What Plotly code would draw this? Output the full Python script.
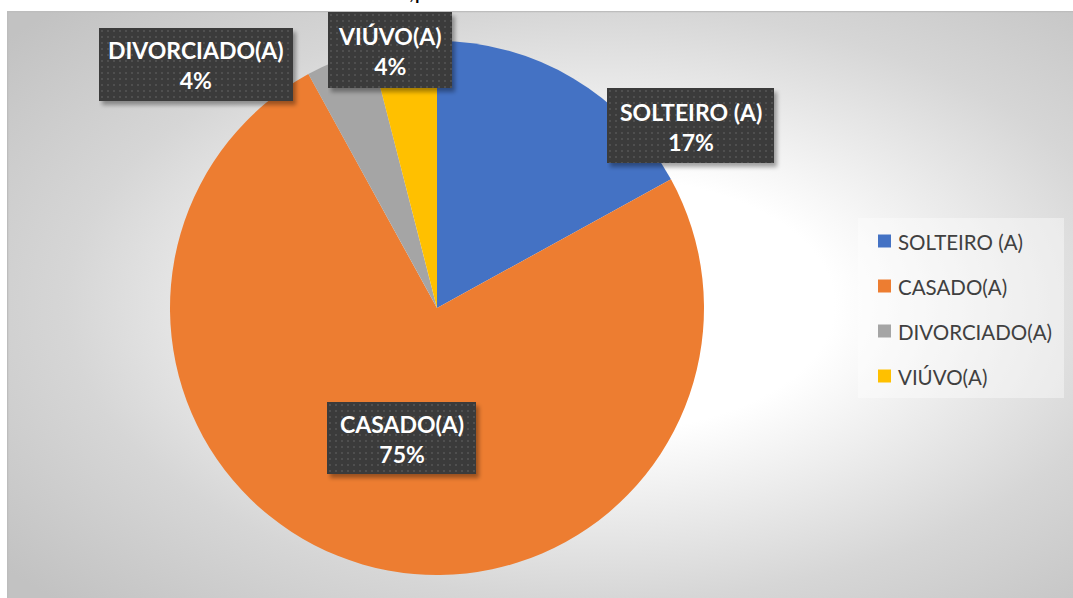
import base64
import plotly.graph_objects as go

# ---------------- data ----------------
labels = ["SOLTEIRO (A)", "CASADO(A)", "DIVORCIADO(A)", "VIÚVO(A)"]
values = [17, 75, 4, 4]
colors = ["#4472C4", "#ED7D31", "#A5A5A5", "#FFC000"]

# ---------------- geometry / style ----------------
W, H = 1073, 598


def px(x):
    return x / W


def py(y):
    return 1 - y / H


def svg_uri(svg):
    return "data:image/svg+xml;base64," + base64.b64encode(svg.encode("utf-8")).decode("ascii")


# chart-area background with radial gradient
PX0, PY0 = 7, 11
PW, PH = W - PX0, H - PY0
bg_svg = f'''<svg xmlns="http://www.w3.org/2000/svg" width="{PW}" height="{PH}" viewBox="0 0 {PW} {PH}" preserveAspectRatio="none">
<defs><radialGradient id="g" cx="0.56" cy="0.5" r="0.72">
<stop offset="0" stop-color="#ffffff"/>
<stop offset="0.3" stop-color="#ffffff"/>
<stop offset="0.7" stop-color="#d6d6d6"/>
<stop offset="1" stop-color="#c2c2c2"/>
</radialGradient></defs>
<rect width="{PW}" height="{PH}" fill="url(#g)"/>
<line x1="0.5" y1="0" x2="0.5" y2="{PH}" stroke="#bdbdbd" stroke-width="1.5"/>
<line x1="0" y1="0.5" x2="{PW}" y2="0.5" stroke="#bdbdbd" stroke-width="1.5"/>
</svg>'''

# pie placement (centre 437,308 ; radius 267)
CX, CY, R = 437, 308, 267

# label boxes (x0, y0, x1, y1) in pixels, matching order of labels
label_boxes = [
    (607, 88, 774, 163),
    (327, 402, 476, 474),
    (99, 28, 293, 101),
    (328, 12, 452, 88),
]


def box_svg(w, h):
    pad = 10
    return f'''<svg xmlns="http://www.w3.org/2000/svg" width="{w+pad}" height="{h+pad}" viewBox="0 0 {w+pad} {h+pad}">
<defs>
<pattern id="p" width="6" height="6" patternUnits="userSpaceOnUse">
<rect width="6" height="6" fill="#3b3b3b"/>
<rect x="2" y="2" width="2" height="2" fill="#4f4f4f"/>
</pattern>
<filter id="s" x="-10%" y="-10%" width="130%" height="140%"><feGaussianBlur stdDeviation="2.2"/></filter>
</defs>
<rect x="3" y="4" width="{w}" height="{h}" fill="#000" fill-opacity="0.35" filter="url(#s)"/>
<rect x="0" y="0" width="{w}" height="{h}" fill="url(#p)"/>
</svg>'''


total = sum(values)
pct = [f"{round(v / total * 100)}%" for v in values]

fig = go.Figure(
    go.Pie(
        labels=labels,
        values=values,
        marker=dict(colors=colors, line=dict(width=0)),
        sort=False,
        direction="clockwise",
        rotation=0,
        textinfo="none",
        hoverinfo="label+percent",
        domain=dict(x=[px(CX - R), px(CX + R)], y=[py(CY + R), py(CY - R)]),
        showlegend=False,
    )
)

images = [
    dict(source=svg_uri(bg_svg), xref="paper", yref="paper",
         x=px(PX0), y=py(PY0), sizex=PW / W, sizey=PH / H,
         xanchor="left", yanchor="top", sizing="stretch", layer="below")
]
annotations = []
shapes = []

for lab, p, (x0, y0, x1, y1) in zip(labels, pct, label_boxes):
    w, h = x1 - x0, y1 - y0
    images.append(dict(source=svg_uri(box_svg(w, h)), xref="paper", yref="paper",
                       x=px(x0), y=py(y0), sizex=(w + 10) / W, sizey=(h + 10) / H,
                       xanchor="left", yanchor="top", sizing="stretch", layer="above"))
    annotations.append(dict(
        text=f"<b>{lab}</b><br><b>{p}</b>", xref="paper", yref="paper",
        x=px((x0 + x1) / 2), y=py((y0 + y1) / 2 + 1), xanchor="center", yanchor="middle",
        showarrow=False, align="center",
        font=dict(family="Lato", size=23, color="#ffffff")))

# legend (manual, drawn from labels/colors)
shapes.append(dict(type="rect", xref="paper", yref="paper",
                   x0=px(858), x1=px(1064), y0=py(398), y1=py(218),
                   fillcolor="rgba(255,255,255,0.4)", line=dict(width=0), layer="below"))
for i, (lab, col) in enumerate(zip(labels, colors)):
    yc = 241 + 45 * i
    shapes.append(dict(type="rect", xref="paper", yref="paper",
                       x0=px(878), x1=px(891), y0=py(yc + 6.5), y1=py(yc - 6.5),
                       fillcolor=col, line=dict(width=0)))
    annotations.append(dict(
        text=lab, xref="paper", yref="paper", x=px(896), y=py(yc + 1),
        xanchor="left", yanchor="middle", showarrow=False,
        font=dict(family="Lato", size=20.5, color="#404040")))

# cut-off title fragment at top
annotations.append(dict(
    text=",p", xref="paper", yref="paper", x=px(407), y=py(6),
    xanchor="left", yanchor="bottom", showarrow=False,
    font=dict(family="Lato", size=24, color="#000000")))

fig.update_layout(
    width=W, height=H,
    margin=dict(l=0, r=0, t=0, b=0),
    paper_bgcolor="#ffffff",
    images=images,
    shapes=shapes,
    annotations=annotations,
    showlegend=False,
)

fig.write_html("out.html",
               config={"displayModeBar": False},
               post_script="document.body.style.margin='0';document.body.style.overflow='hidden';")
